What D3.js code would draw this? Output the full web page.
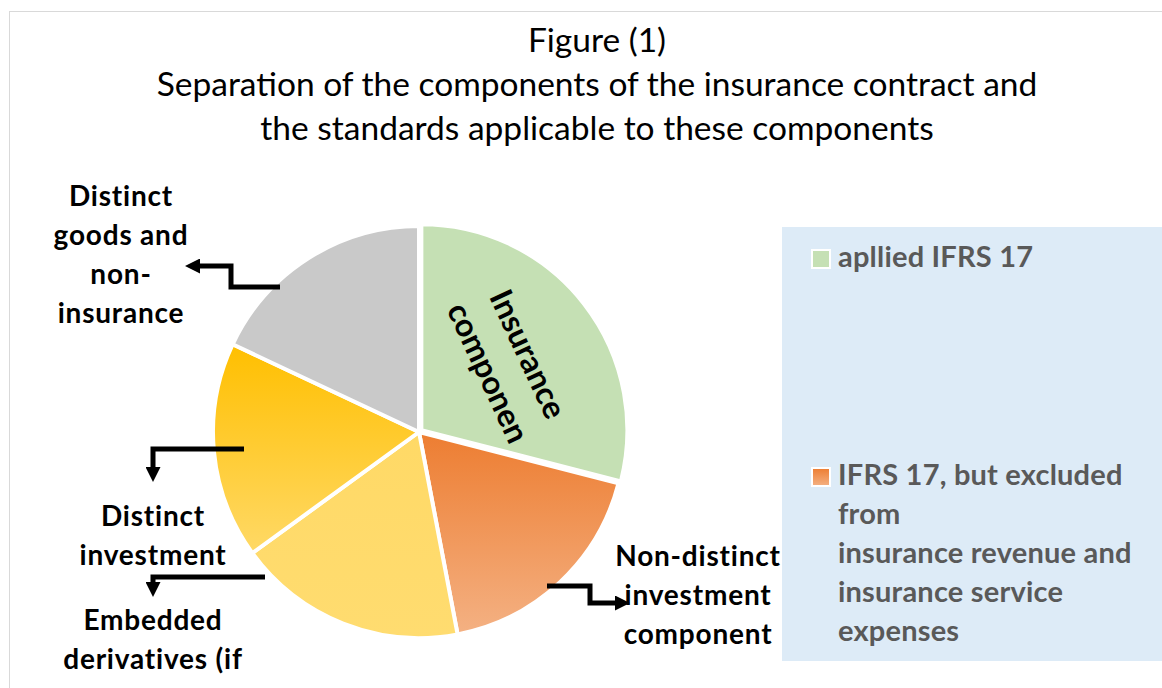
<!DOCTYPE html>
<html lang="en">
<head>
<meta charset="utf-8">
<title>Figure 1</title>
<script src="https://cdn.jsdelivr.net/npm/d3@7"></script>
<style>
  body { margin: 0; background: #fff; }
  text { font-family: Lato, "Liberation Sans", sans-serif; }
</style>
</head>
<body>
<script>
var w = 1162;
var h = 688;

// slices, clockwise from 12 o'clock
var categories = ["Insurance componen", "Non-distinct investment component", "Embedded derivatives (if", "Distinct investment", "Distinct goods and non-insurance"];
var shares = [29, 18, 18, 17, 18];
var sliceColors = [["#c5e0b4", "#c5e0b4"], ["#ed7d31", "#f4b183"], ["#ffd966", "#ffdc70"], ["#ffbf00", "#ffd966"], ["#c9c9c9", "#c9c9c9"]];

var titleLines = ["Figure (1)", "Separation of the components of the insurance contract and", "the standards applicable to these components"];
var legendLabels = [["apllied IFRS 17"], ["IFRS 17, but excluded", "from", "insurance revenue and", "insurance service", "expenses"]];

var cx = 419, cy = 432, r = 206;

var svg = d3.select("body").append("svg")
  .attr("width", w)
  .attr("height", h);

// chart frame
svg.append("rect")
  .attr("x", 9.5).attr("y", 11.5)
  .attr("width", w + 20).attr("height", h + 20)
  .attr("fill", "#fff")
  .attr("stroke", "#d9d9d9");

var defs = svg.append("defs");
sliceColors.forEach(function (c, i) {
  var g = defs.append("linearGradient")
    .attr("id", "grad" + i)
    .attr("x1", 0).attr("y1", 0).attr("x2", 0).attr("y2", 1);
  g.append("stop").attr("offset", "0%").attr("stop-color", c[0]);
  g.append("stop").attr("offset", "100%").attr("stop-color", c[1]);
});

defs.append("marker")
  .attr("id", "head")
  .attr("viewBox", "0 0 10 10")
  .attr("refX", 2).attr("refY", 5)
  .attr("markerUnits", "userSpaceOnUse")
  .attr("markerWidth", 15).attr("markerHeight", 15)
  .attr("orient", "auto")
  .append("path")
  .attr("d", "M0,0 L10,5 L0,10 Z")
  .attr("fill", "#000");

// title
svg.append("g").selectAll("text")
  .data(titleLines)
  .enter()
  .append("text")
  .attr("x", 597)
  .attr("y", function (d, i) { return 52 + i * 44; })
  .attr("text-anchor", "middle")
  .attr("font-size", "33.5px")
  .attr("fill", "#000")
  .text(function (d) { return d; });

// pie
var pie = d3.pie().sort(null).value(function (d) { return d; });
var arc = d3.arc().innerRadius(0).outerRadius(r);
var labelArc = d3.arc().innerRadius(0).outerRadius(r * 1.07);
var arcs = pie(shares);

var pieG = svg.append("g").attr("transform", "translate(" + cx + "," + cy + ")");

pieG.selectAll("path")
  .data(arcs)
  .enter()
  .append("path")
  .attr("d", arc)
  .attr("transform", function (d, i) {
    if (i !== 0) return null;
    var mid = (d.startAngle + d.endAngle) / 2;
    return "translate(" + (3 * Math.sin(mid)) + "," + (-3 * Math.cos(mid)) + ")";
  })
  .attr("fill", function (d, i) { return "url(#grad" + i + ")"; })
  .attr("stroke", "#fff")
  .attr("stroke-width", 4)
  .attr("stroke-linejoin", "round");

// label inside the first slice, rotated
var c0 = labelArc.centroid(arcs[0]);
var inLbl = pieG.append("text")
  .attr("transform", "translate(" + c0[0] + "," + c0[1] + ") rotate(65)")
  .attr("text-anchor", "middle")
  .attr("font-size", "32px")
  .attr("font-weight", "bold")
  .attr("fill", "#000");
inLbl.append("tspan").attr("x", 0).attr("y", -13).text("Insurance");
inLbl.append("tspan").attr("x", 0).attr("y", 31).text("componen");

// outer labels
var outLabels = [
  { lines: ["Non-distinct", "investment", "component"], x: 698, y: 566 },
  { lines: ["Embedded", "derivatives (if"], x: 153, y: 630 },
  { lines: ["Distinct", "investment"], x: 153, y: 526 },
  { lines: ["Distinct", "goods and", "non-", "insurance"], x: 121, y: 206 }
];
outLabels.forEach(function (o) {
  svg.append("text")
    .attr("text-anchor", "middle")
    .attr("font-size", "28px")
    .attr("letter-spacing", "0.8px")
    .attr("font-weight", "bold")
    .attr("fill", "#000")
    .selectAll("tspan")
    .data(o.lines)
    .enter()
    .append("tspan")
    .attr("x", o.x)
    .attr("y", function (d, i) { return o.y + i * 39; })
    .text(function (d) { return d; });
});

// elbow arrows
var arrows = [
  [[547, 586], [590, 586], [590, 603], [618, 603]],
  [[265, 577], [153, 577], [153, 585]],
  [[244, 449], [153, 449], [153, 470]],
  [[280, 287], [231, 287], [231, 266], [197, 266]]
];
var line = d3.line();
svg.append("g").selectAll("path")
  .data(arrows)
  .enter()
  .append("path")
  .attr("d", line)
  .attr("fill", "none")
  .attr("stroke", "#000")
  .attr("stroke-width", 5)
  .attr("marker-end", "url(#head)");

// legend
var legend = svg.append("g");
legend.append("rect")
  .attr("x", 782).attr("y", 227)
  .attr("width", w - 782).attr("height", 434)
  .attr("fill", "#ddebf7");

var legendY = [267, 485];
legendLabels.forEach(function (lines, i) {
  legend.append("rect")
    .attr("x", 812).attr("y", legendY[i] - 17)
    .attr("width", 18).attr("height", 18)
    .attr("fill", "url(#grad" + i + ")")
    .attr("stroke", "#fff")
    .attr("stroke-width", 2);
  legend.append("text")
    .attr("font-size", "29px")
    .attr("letter-spacing", "0.2px")
    .attr("font-weight", "bold")
    .attr("fill", "#595959")
    .selectAll("tspan")
    .data(lines)
    .enter()
    .append("tspan")
    .attr("x", 838)
    .attr("y", function (d, j) { return legendY[i] + j * 39; })
    .text(function (d) { return d; });
});
</script>
</body>
</html>
